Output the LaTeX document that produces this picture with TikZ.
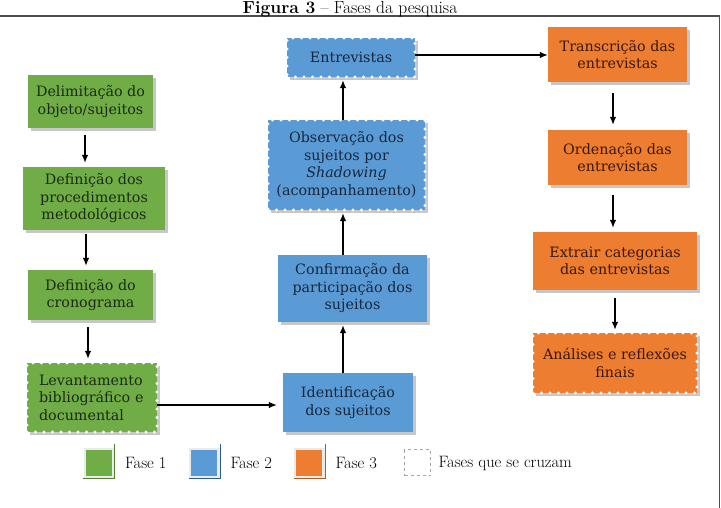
\documentclass[tikz,border=0pt]{standalone}
\usepackage{fontspec}
\newfontfamily\boxfont{DejaVu Serif}
\usetikzlibrary{arrows.meta,shadows}
\definecolor{fase1}{HTML}{70AD47}
\definecolor{fase2}{HTML}{5B9BD5}
\definecolor{fase3}{HTML}{ED7D31}
\definecolor{texto1}{HTML}{1B2A12}
\definecolor{texto2}{HTML}{16263C}
\definecolor{texto3}{HTML}{3A1805}
\definecolor{borda1}{HTML}{507E32}
\definecolor{borda2}{HTML}{2E5C8A}
\definecolor{borda3}{HTML}{AE5A21}
\tikzset{
  fase/.style={align=center,inner sep=2pt,font=\boxfont\fontsize{14.3}{17.5}\selectfont,
    drop shadow={shadow xshift=3pt,shadow yshift=-3pt,fill=black!22,opacity=1}},
  faseum/.style={fase,fill=fase1,text=texto1},
  fasedois/.style={fase,fill=fase2,text=texto2},
  fasetres/.style={fase,fill=fase3,text=texto3},
  cruza/.style={postaction={draw=white,line width=3.4pt,line cap=round,dash pattern=on 0pt off 8.5pt}},
  seta/.style={-{Latex[length=8pt,width=6.5pt]},line width=1.1pt},
  legenda/.style={minimum size=26pt,inner sep=0pt},
  rotulo/.style={anchor=west,font=\fontsize{16.5}{19}\selectfont},
}
\begin{document}
\begin{tikzpicture}[x=1pt,y=-1pt]
  \useasboundingbox (0,0) rectangle (721,508);
  % moldura
  \draw[black!70,line width=1.4pt] (0,16) -- (719.5,16) -- (719.5,508);
  \node[inner sep=0pt,anchor=base,font=\fontsize{17.5}{20}\selectfont] (titulo) at (350,14) {\textbf{Figura 3} -- Fases da pesquisa};

  % fase 1
  \node[faseum,minimum width=125pt,minimum height=53pt] (delim) at (90.5,101.5) {Delimitação do\\objeto/sujeitos};
  \node[faseum,minimum width=142pt,minimum height=63pt] (proced) at (94,198.5) {Definição dos\\procedimentos\\metodológicos};
  \node[faseum,minimum width=125pt,minimum height=50pt] (crono) at (90.5,295) {Definição do\\cronograma};
  \node[faseum,cruza,minimum width=130pt,minimum height=69pt,align=left,text width=106pt] (levant) at (92,397.5) {Levantamento\\bibliográfico e\\documental};

  % fase 2
  \node[fasedois,minimum width=130pt,minimum height=59pt] (ident) at (348,402.5) {Identificação\\dos sujeitos};
  \node[fasedois,minimum width=149pt,minimum height=67pt] (confirm) at (352.5,288.5) {Confirmação da\\participação dos\\sujeitos};
  \node[fasedois,cruza,minimum width=157pt,minimum height=90pt] (observ) at (346.5,165) {Observação dos\\sujeitos por\\\textit{Shadowing}\\(acompanhamento)};
  \node[fasedois,cruza,minimum width=128pt,minimum height=39pt] (entrev) at (351,57.5) {Entrevistas};

  % fase 3
  \node[fasetres,minimum width=139pt,minimum height=55pt] (transc) at (617.5,54.5) {Transcrição das\\entrevistas};
  \node[fasetres,minimum width=139pt,minimum height=55pt] (orden) at (617.5,157.5) {Ordenação das\\entrevistas};
  \node[fasetres,minimum width=164pt,minimum height=58pt] (extrair) at (615,261) {Extrair categorias\\das entrevistas};
  \node[fasetres,cruza,minimum width=164pt,minimum height=60pt] (analise) at (615,363) {Análises e reflexões\\finais};

  % setas
  \draw[seta,shorten <=7pt,shorten >=4pt] (delim.south -| 85,0) -- (proced.north -| 85,0);
  \draw[seta,shorten <=4pt,shorten >=4pt] (proced.south -| 86,0) -- (crono.north -| 86,0);
  \draw[seta,shorten <=7pt,shorten >=4pt] (crono.south -| 88,0) -- (levant.north -| 88,0);
  \draw[seta,shorten >=6pt] (levant.east |- 0,405) -- (ident.west |- 0,405);
  \draw[seta,shorten >=3pt] (ident.north -| 343,0) -- (confirm.south -| 343,0);
  \draw[seta,shorten >=3pt] (confirm.north -| 343,0) -- (observ.south -| 343,0);
  \draw[seta,shorten >=3pt] (observ.north -| 343,0) -- (entrev.south -| 343,0);
  \draw[seta] (entrev.east |- 0,55) -- (transc.west |- 0,55);
  \draw[seta,shorten <=11pt,shorten >=5pt] (transc.south -| 613,0) -- (orden.north -| 613,0);
  \draw[seta,shorten <=10pt,shorten >=4pt] (orden.south -| 613,0) -- (extrair.north -| 613,0);
  \draw[seta,shorten <=8pt,shorten >=3pt] (extrair.south -| 615,0) -- (analise.north -| 615,0);

  % legenda
  \foreach \n/\x/\cor/\borda/\texto in {leg1/98.5/fase1/borda1/Fase 1,leg2/204/fase2/borda2/Fase 2,leg3/309/fase3/borda3/Fase 3}{
    \fill[black!8] (\x-15,447.5) rectangle (\x+16,478.5);
    \node[legenda,fill=\cor] (\n) at (\x,462.5) {};
    \draw[\borda,line width=1.3pt] ([xshift=3pt,yshift=5pt]\n.north east) |- ([xshift=-2pt,yshift=-3pt]\n.south west);
    \node[rotulo] (\n txt) at (\x+23,463) {\texto};
  }
  \node[legenda,draw=black!35,dashed,line width=0.8pt] (leg4) at (417.5,462.5) {};
  \node[rotulo] (leg4txt) at (435,463) {Fases que se cruzam};
\end{tikzpicture}
\end{document}
